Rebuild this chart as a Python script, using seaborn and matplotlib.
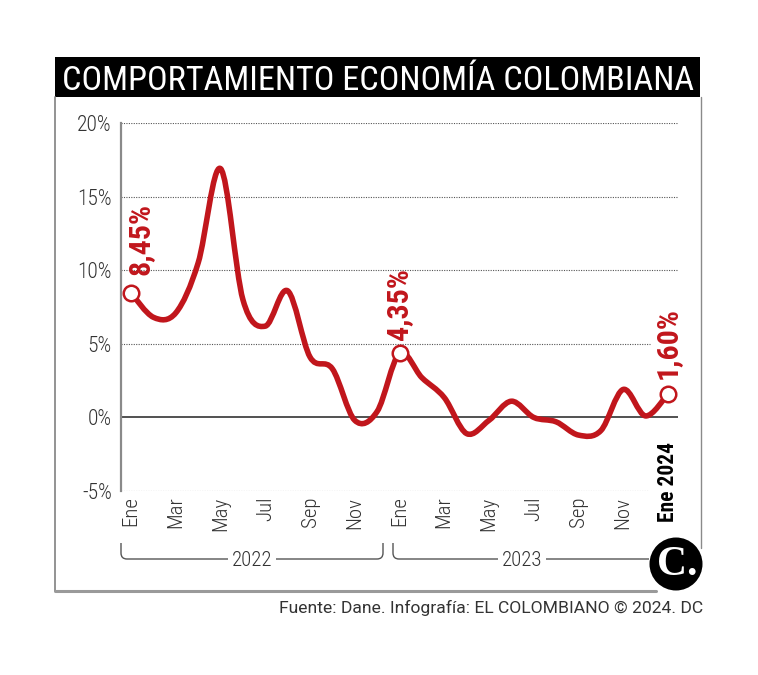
import matplotlib
matplotlib.use('Agg')
import matplotlib.pyplot as plt
import matplotlib.font_manager as fm
from matplotlib.path import Path
from matplotlib.patches import PathPatch, Rectangle, Circle
from matplotlib.lines import Line2D
import seaborn as sns
import numpy as np
import pandas as pd

# ---------------- data ----------------
months = ['Ene', 'Feb', 'Mar', 'Abr', 'May', 'Jun', 'Jul', 'Ago', 'Sep', 'Oct', 'Nov', 'Dic'] * 2 + ['Ene']
years = [2022] * 12 + [2023] * 12 + [2024]
values = [8.45, 6.8, 7.1, 10.5, 16.9, 8.0, 6.2, 8.6, 4.1, 3.3, -0.2, 0.4,
          4.35, 2.7, 1.35, -1.1, -0.2, 1.1, 0.0, -0.3, -1.2, -0.9, 1.9, 0.1,
          1.60]
highlight_idx = [0, 12, 24]
highlight_labels = ['8,45%', '4,35%', '1,60%']
xtick_labels = ['Ene', 'Mar', 'May', 'Jul', 'Sep', 'Nov'] * 2
last_label = 'Ene 2024'
ytick_values = [20, 15, 10, 5, 0, -5]
ytick_labels = ['20%', '15%', '10%', '5%', '0%', '-5%']
year_labels = ['2022', '2023']
title = 'COMPORTAMIENTO ECONOMÍA COLOMBIANA'
source = 'Fuente: Dane. Infografía: EL COLOMBIANO © 2024. DC'

df = pd.DataFrame({'mes': months, 'anio': years, 'valor': values})
df['i'] = np.arange(len(df))

# ---------------- style ----------------
sns.set_theme(style='white')
names = {f.name for f in fm.fontManager.ttflist}
def pick(cands):
    for c in cands:
        if c in names:
            return c
    return 'DejaVu Sans'
cond = pick(['Roboto Condensed', 'Liberation Sans Narrow', 'Roboto'])
base = pick(['Roboto', 'Liberation Sans', 'DejaVu Sans'])
serif = pick(['Liberation Serif', 'DejaVu Serif'])
plt.rcParams['font.family'] = [base, 'DejaVu Sans']

RED = '#C1161C'
TXT = '#333333'
W, H = 758, 675
fig = plt.figure(figsize=(W / 100, H / 100), dpi=100)
fig.patch.set_facecolor('white')
T = fig.dpi_scale_trans

def P(x, y):
    return (x / 100.0, (H - y) / 100.0)

def fline(xs, ys, **kw):
    pts = [P(a, b) for a, b in zip(xs, ys)]
    fig.add_artist(Line2D([p[0] for p in pts], [p[1] for p in pts], transform=T, **kw))

# ---------------- frame & title ----------------
x0, y0 = P(55, 97)
x1, y1 = P(700, 57)
fig.add_artist(Rectangle((x0, y0), x1 - x0, y1 - y0, transform=T, color='black', lw=0))
fline([55, 55], [97, 591], color='#8a8a8a', lw=1.3)
fline([701, 701], [97, 548], color='#8a8a8a', lw=1.0)
fline([55, 656], [591, 591], color='#9a9a9a', lw=2.2)

ttl = fig.text(*P(378, 90), title, transform=T, color='white', ha='center', va='baseline',
               fontsize=22, family=[cond, 'DejaVu Sans'])
src = fig.text(*P(703, 613), source, transform=T, color='#333333', ha='right', va='baseline',
               fontsize=11.5, family=[base, 'DejaVu Sans'])

# ---------------- axes ----------------
ax = fig.add_axes([121 / W, 1 - 491 / H, (678 - 121) / W, (491 - 123) / H])
ax.set_facecolor('none')
ax.set_xlim(-0.45, 24.45)
ax.set_ylim(-5, 20)
for s in ['top', 'right', 'bottom']:
    ax.spines[s].set_visible(False)
ax.spines['left'].set_color('#8a8a8a')
ax.spines['left'].set_linewidth(1.6)

grid_kw = dict(color='#555555', lw=0.8, ls=(0, (1, 1.2)), zorder=1)
for v in [20, 15, 10]:
    ax.plot([-0.45, 24.45], [v, v], **grid_kw)
ax.plot([-0.45, 23.2], [5, 5], **grid_kw)
ax.plot([-0.45, 23.1], [-5, -5], **grid_kw)
ax.plot([-0.45, 24.45], [0, 0], color='#222222', lw=1.1, zorder=2)

# smooth line (Catmull-Rom as cubic Bezier, in data coordinates)
pts = df[['i', 'valor']].to_numpy(dtype=float)
ext = np.vstack([pts[0], pts, pts[-1]])
verts = [pts[0]]
codes = [Path.MOVETO]
for k in range(len(pts) - 1):
    p0, p1, p2, p3 = ext[k], ext[k + 1], ext[k + 2], ext[k + 3]
    verts += [p1 + (p2 - p0) / 6.0, p2 - (p3 - p1) / 6.0, p2]
    codes += [Path.CURVE4] * 3
ax.add_patch(PathPatch(Path(verts, codes), fill=False, edgecolor=RED, lw=4.0,
                       capstyle='round', joinstyle='round', zorder=3))

hl = df.iloc[highlight_idx]
sns.scatterplot(data=hl, x='i', y='valor', ax=ax, s=125, color='white', edgecolor=RED,
                linewidth=1.8, zorder=5, legend=False)
offsets = [(6.5, 13), (0, 9.5), (0, 10.8)]
for (idx, lab, off) in zip(highlight_idx, highlight_labels, offsets):
    ax.annotate(lab, (df['i'][idx], df['valor'][idx]), xytext=off, textcoords='offset points',
                rotation=90, ha='center', va='bottom', color=RED, fontsize=21.5,
                fontweight='bold', family=[cond, 'DejaVu Sans'], zorder=6)

ax.set_yticks(ytick_values)
ax.set_yticklabels(ytick_labels)
ax.set_xticks(list(range(0, 24, 2)))
ax.set_xticklabels(xtick_labels, rotation=90)
ax.tick_params(axis='y', length=0, pad=6.5, labelsize=15.5, labelcolor=TXT)
ax.tick_params(axis='x', length=0, pad=4, labelsize=15, labelcolor=TXT)
for t in ax.get_yticklabels() + ax.get_xticklabels():
    t.set_family([cond, 'DejaVu Sans'])
    t.set_fontweight('light')
ax.set_xlabel('')
ax.set_ylabel('')
ax.grid(False)
ax.text(24, -0.085, last_label, transform=ax.get_xaxis_transform(), rotation=90,
        ha='center', va='bottom', fontsize=15.5, fontweight='bold', color='black',
        family=[cond, 'DejaVu Sans'])

# ---------------- year brackets ----------------
def bracket(xl, xr, label, xc, up_right=True):
    yb, yt, r = 559, 543, 6
    v = [P(xl, yt), P(xl, yb - r), P(xl, yb), P(xl + r, yb), P(xr - (r if up_right else 0), yb)]
    c = [Path.MOVETO, Path.LINETO, Path.CURVE3, Path.CURVE3, Path.LINETO]
    if up_right:
        v += [P(xr, yb), P(xr, yb - r), P(xr, yt)]
        c += [Path.CURVE3, Path.CURVE3, Path.LINETO]
    fig.add_artist(PathPatch(Path(v, c), transform=T, fill=False, edgecolor='#555555', lw=1.0))
    txt = fig.text(*P(xc, 560), label, transform=T, ha='center', va='center', fontsize=15,
                   fontweight='light', color=TXT, family=[cond, 'DejaVu Sans'],
                   bbox=dict(facecolor='white', edgecolor='none', pad=3))
    return txt

bracket(121, 383, year_labels[0], 252)
bracket(393, 649, year_labels[1], 522, up_right=False)

# ---------------- logo ----------------
fig.add_artist(Circle(P(676, 564), 0.265, transform=T, color='black', lw=0))
fig.text(*P(677, 565), 'C.', transform=T, ha='center', va='center', color='white',
         fontsize=30, fontweight='bold', family=[serif, 'DejaVu Serif'])

# fit title & footer widths
fig.canvas.draw()
r = fig.canvas.get_renderer()
for t, w in [(ttl, 630), (src, 425)]:
    bb = t.get_window_extent(r)
    t.set_fontsize(t.get_fontsize() * w / bb.width)

fig.savefig('out.png', dpi=100, facecolor='white')
